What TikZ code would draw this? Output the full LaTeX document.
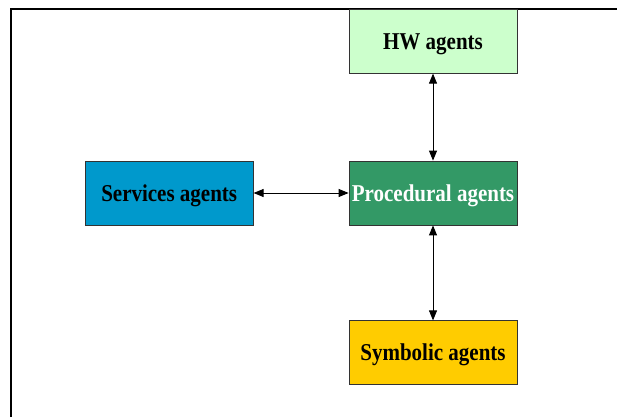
\documentclass[tikz,border=0pt]{standalone}
\usepackage{fontspec}
\setmainfont{Liberation Serif}
\usetikzlibrary{positioning,arrows.meta}

\definecolor{hwgreen}{HTML}{CCFFCC}
\definecolor{procgreen}{HTML}{339966}
\definecolor{servblue}{HTML}{0099CC}
\definecolor{symyellow}{HTML}{FFCC00}

\newcommand{\agentlabel}[1]{\scalebox{1}[1.15]{#1}}

\tikzset{
	agentbox/.style={draw=black!80, line width=0.8pt, minimum width=168pt, minimum height=64pt,
		inner sep=0pt, text height=16pt, text depth=0pt, font=\fontsize{21}{24}\selectfont\bfseries},
	link/.style={line width=0.9pt, {Triangle[length=10pt,width=8pt]}-{Triangle[length=10pt,width=8pt]}}
}

\begin{document}
\begin{tikzpicture}[x=1pt, y=-1pt]
			\useasboundingbox (0,0) rectangle (617,417);
			\draw[line width=2pt] (11,417) -- (11,9) -- (617,9);
			\node[agentbox, fill=procgreen, text=white] (proc) at (433,193) {\agentlabel{Procedural agents}};
			\node[agentbox, fill=hwgreen, above=87pt of proc] (hw) {\agentlabel{HW agents}};
			\node[agentbox, fill=symyellow, below=95pt of proc] (sym) {\agentlabel{Symbolic agents}};
			\node[agentbox, fill=servblue, left=95pt of proc] (serv) {\agentlabel{Services agents}};
			\draw[link] (hw) -- (proc);
			\draw[link] (proc) -- (sym);
			\draw[link] (serv) -- (proc);
			\end{tikzpicture}
\end{document}
